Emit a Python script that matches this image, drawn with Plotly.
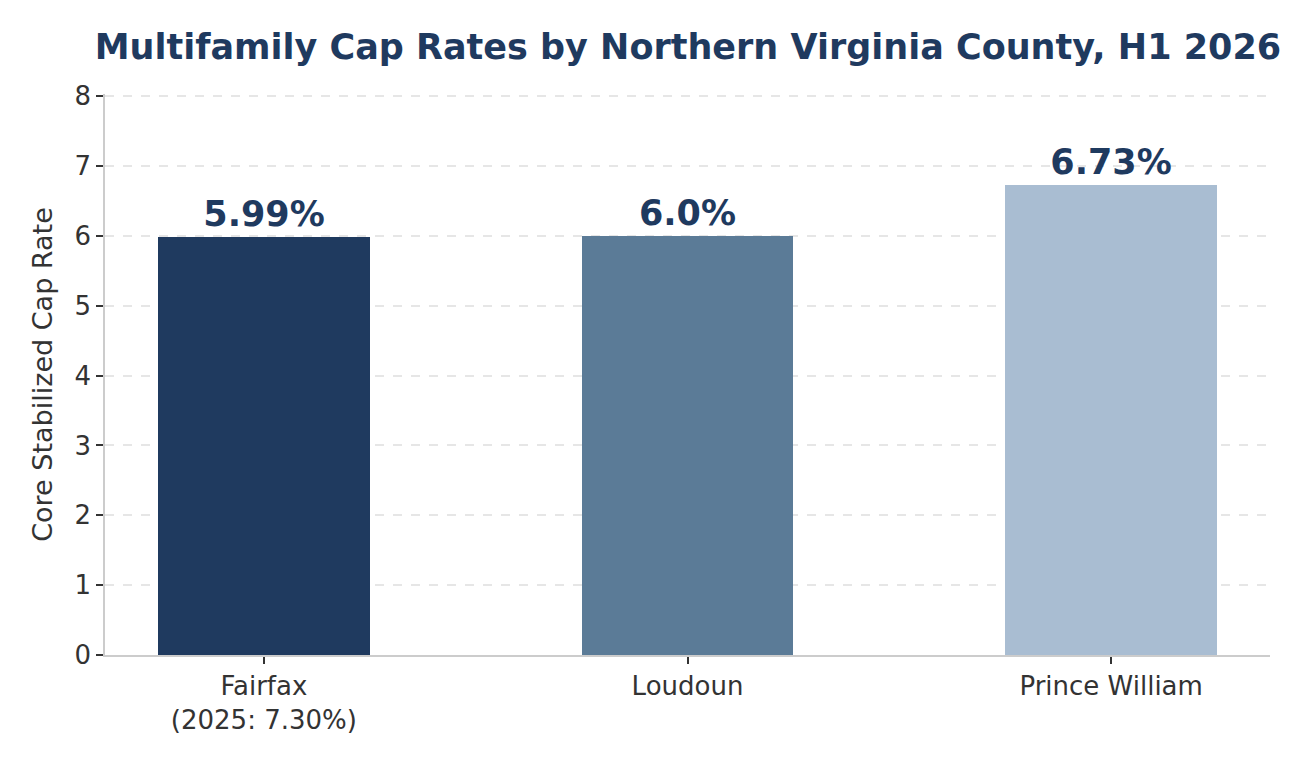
import plotly.graph_objects as go

# H1 2026 core stabilized cap rates
counties = ["Fairfax<br>(2025: 7.30%)", "Loudoun", "Prince William"]
cap_rates = [5.99, 6.0, 6.73]
bar_colors = ["#1f3a5f", "#5b7b97", "#a9bdd2"]

navy = "#1f3a5f"
font = "DejaVu Sans"

fig = go.Figure()
fig.add_trace(go.Bar(
    x=[0, 1, 2],
    y=cap_rates,
    width=0.5,
    marker=dict(color=bar_colors, line=dict(width=0)),
    text=[f"{v}%" for v in cap_rates],
    textposition="outside",
    cliponaxis=False,
    textfont=dict(family=font, size=35, color=navy, weight="bold"),
    hoverinfo="skip",
))

fig.update_layout(
    width=1300, height=766,
    margin=dict(l=97, r=38, t=86, b=119),
    paper_bgcolor="white", plot_bgcolor="white",
    showlegend=False,
    bargap=0,
    title=dict(
        text="<b>Multifamily Cap Rates by Northern Virginia County, H1 2026</b>",
        x=0.523, xanchor="center", y=0.95, yanchor="middle",
        font=dict(family=font, size=35, color=navy),
    ),
    font=dict(family=font, color="#333333"),
)

fig.update_xaxes(
    range=[-0.375, 2.375],
    tickvals=[0, 1, 2], ticktext=counties,
    ticks="outside", ticklen=7, tickwidth=1.5, tickcolor="#333333",
    tickfont=dict(family=font, size=26, color="#333333"),
    showline=True, linecolor="#cccccc", linewidth=1.5,
    showgrid=False, zeroline=False,
)
fig.update_yaxes(
    range=[0, 8.03], dtick=1,
    ticks="outside", ticklen=7, tickwidth=1.5, tickcolor="#333333",
    tickfont=dict(family=font, size=26, color="#333333"),
    title=dict(text="Core Stabilized Cap Rate", font=dict(family=font, size=27, color="#333333"), standoff=14),
    showline=True, linecolor="#cccccc", linewidth=1.5,
    showgrid=True, gridcolor="#e6e6e6", gridwidth=1.5, griddash="dash",
    zeroline=False,
)

fig.write_html("out.html")
